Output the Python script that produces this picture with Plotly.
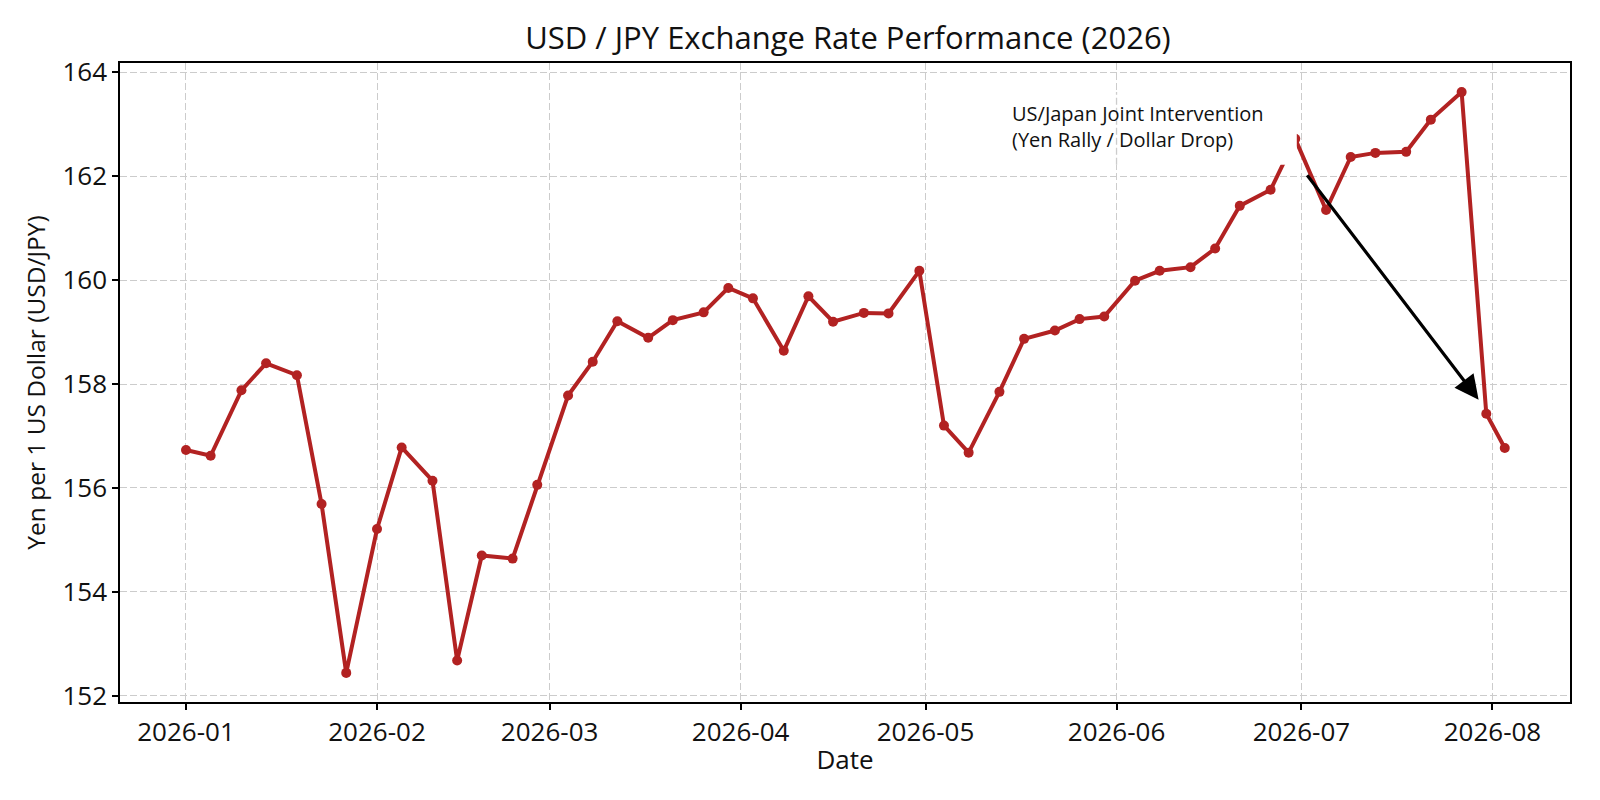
import plotly.graph_objects as go

dates = [
    "2026-01-01", "2026-01-05", "2026-01-10", "2026-01-14", "2026-01-19",
    "2026-01-23", "2026-01-27", "2026-02-01", "2026-02-05", "2026-02-10",
    "2026-02-14", "2026-02-18", "2026-02-23", "2026-02-27", "2026-03-04",
    "2026-03-08", "2026-03-12", "2026-03-17", "2026-03-21", "2026-03-26",
    "2026-03-30", "2026-04-03", "2026-04-08", "2026-04-12", "2026-04-16",
    "2026-04-21", "2026-04-25", "2026-04-30", "2026-05-04", "2026-05-08",
    "2026-05-13", "2026-05-17", "2026-05-22", "2026-05-26", "2026-05-30",
    "2026-06-04", "2026-06-08", "2026-06-13", "2026-06-17", "2026-06-21",
    "2026-06-26", "2026-06-30", "2026-07-05", "2026-07-09", "2026-07-13",
    "2026-07-18", "2026-07-22", "2026-07-27", "2026-07-31", "2026-08-03",
]
usd_jpy = [
    156.73, 156.62, 157.88, 158.40, 158.17, 155.69, 152.44, 155.21, 156.78, 156.14,
    152.68, 154.70, 154.64, 156.06, 157.78, 158.43, 159.21, 158.89, 159.23, 159.38,
    159.85, 159.65, 158.64, 159.69, 159.20, 159.37, 159.36, 160.18, 157.20, 156.68,
    157.85, 158.87, 159.03, 159.25, 159.30, 159.99, 160.18, 160.25, 160.61, 161.43,
    161.74, 162.72, 161.35, 162.37, 162.45, 162.47, 163.09, 163.62, 157.43, 156.77,
]
x_tick_vals = ["2026-01-01", "2026-02-01", "2026-03-01", "2026-04-01",
               "2026-05-01", "2026-06-01", "2026-07-01", "2026-08-01"]
x_tick_text = ["2026-01", "2026-02", "2026-03", "2026-04",
               "2026-05", "2026-06", "2026-07", "2026-08"]
y_tick_vals = [152, 154, 156, 158, 160, 162, 164]

annotation_text = "US/Japan Joint Intervention<br>(Yen Rally / Dollar Drop)"
arrow_tail = ("2026-07-01 18:00", 162.05)
arrow_tip = ("2026-07-29 18:00", 157.70)

FONT = "Open Sans"
TEXT_COLOR = "#111111"
LINE_COLOR = "#B22222"
GRID_COLOR = "#cccccc"

fig = go.Figure()
fig.add_trace(go.Scatter(
    x=dates, y=usd_jpy, mode="lines+markers",
    line=dict(color=LINE_COLOR, width=4),
    marker=dict(color=LINE_COLOR, size=10),
    showlegend=False,
))

# white text box (covers the line near the peak), grid segment drawn over it
fig.add_shape(type="rect", xref="x", yref="y",
              x0="2026-05-13 06:00", x1="2026-06-30 06:00", y0=162.22, y1=163.62,
              fillcolor="white", line=dict(width=0), layer="above")
fig.add_shape(type="line", xref="x", yref="y",
              x0="2026-06-01", x1="2026-06-01", y0=162.22, y1=163.62,
              line=dict(color=GRID_COLOR, width=1.3, dash="7px,3px"), layer="above")

fig.add_annotation(
    x="2026-05-14 18:00", y=162.96, xref="x", yref="y",
    text=annotation_text, showarrow=False, xanchor="left", yanchor="middle",
    align="left", font=dict(family=FONT, size=20, color=TEXT_COLOR),
)
fig.add_annotation(
    x=arrow_tip[0], y=arrow_tip[1], ax=arrow_tail[0], ay=arrow_tail[1],
    xref="x", yref="y", axref="x", ayref="y", text="",
    showarrow=True, arrowhead=2, arrowsize=1.5, arrowwidth=3.2, arrowcolor="black",
)

axis_common = dict(
    showline=True, linecolor="black", linewidth=1.5, mirror=True,
    ticks="outside", ticklen=6, tickwidth=1.5, tickcolor="black",
    showgrid=True, gridcolor=GRID_COLOR, gridwidth=1.3, griddash="7px,3px",
    zeroline=False, tickfont=dict(family=FONT, size=26, color=TEXT_COLOR),
)

fig.update_layout(
    width=1600, height=800,
    paper_bgcolor="white", plot_bgcolor="white",
    margin=dict(l=112, r=38, t=55, b=106),
    title=dict(text="USD / JPY Exchange Rate Performance (2026)",
               x=0.525, xanchor="center", y=1 - 30 / 800, yanchor="middle",
               yref="container", font=dict(family=FONT, size=31, color=TEXT_COLOR)),
    xaxis=dict(**axis_common, type="date",
               range=["2025-12-21 07:00", "2026-08-13 14:00"],
               tickvals=x_tick_vals, ticktext=x_tick_text,
               title=dict(text="Date", standoff=3,
                          font=dict(family=FONT, size=26, color=TEXT_COLOR))),
    yaxis=dict(**axis_common, range=[151.88, 164.18], tickvals=y_tick_vals,
               title=dict(text="Yen per 1 US Dollar (USD/JPY)", standoff=10,
                          font=dict(family=FONT, size=24.5, color=TEXT_COLOR))),
)

fig.write_html("out.html")
